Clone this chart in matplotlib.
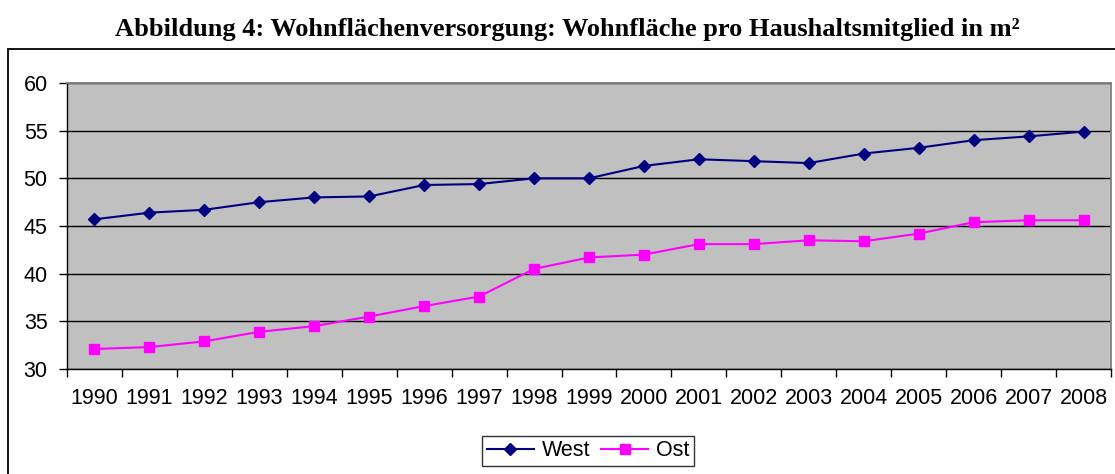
import matplotlib
matplotlib.use("Agg")
import matplotlib.pyplot as plt
from matplotlib.patches import Rectangle

years = [str(y) for y in range(1990, 2009)]
west = [45.7, 46.4, 46.7, 47.5, 48.0, 48.1, 49.3, 49.4, 50.0, 50.0,
        51.3, 52.0, 51.8, 51.6, 52.6, 53.2, 54.0, 54.4, 54.9]
ost = [32.1, 32.3, 32.9, 33.9, 34.5, 35.5, 36.6, 37.6, 40.5, 41.7,
       42.0, 43.1, 43.1, 43.5, 43.4, 44.2, 45.4, 45.6, 45.6]
yticks = [30, 35, 40, 45, 50, 55, 60]
title = "Abbildung 4: Wohnflächenversorgung: Wohnfläche pro Haushaltsmitglied in m²"

W, H = 1115, 474
fig = plt.figure(figsize=(W / 100, H / 100), dpi=100)
plt.rcParams['font.family'] = ['Liberation Sans', 'DejaVu Sans']

# outer chart border (cropped at right and bottom)
fig.patches.append(Rectangle((8 / W, -0.1), 1.2, (H - 49) / H + 0.1,
                             transform=fig.transFigure, fill=False,
                             edgecolor='black', linewidth=1.3))

fig.text(567 / W, 1 - 36 / H, title, ha='center', va='baseline',
         fontfamily=['Liberation Serif', 'DejaVu Serif'], fontweight='bold',
         fontsize=19)

ax = fig.add_axes([67 / W, 1 - 369 / H, (1111 - 67) / W, (369 - 83) / H])
ax.set_facecolor('#C0C0C0')
x = list(range(len(years)))
ax.plot(x, west, color='#000080', marker='D', markersize=6.5, linewidth=1.5,
        label='West')
ax.plot(x, ost, color='#FF00FF', marker='s', markersize=7, linewidth=1.5,
        label='Ost')

ax.set_xlim(-0.5, len(years) - 0.5)
ax.set_ylim(30, 60)
ax.set_yticks(yticks)
ax.set_yticklabels([str(v) for v in yticks])
ax.set_xticks(x)
ax.set_xticklabels(years)
ax.set_xticks([i - 0.5 for i in range(len(years) + 1)], minor=True)
ax.tick_params(axis='x', which='major', length=0, pad=14, labelsize=15.5)
ax.tick_params(axis='x', which='minor', length=6, width=1, direction='out')
ax.tick_params(axis='y', length=6, width=1, pad=8, labelsize=15.5)
ax.grid(axis='y', color='black', linewidth=1)
ax.set_axisbelow(True)
for s in ['top', 'right']:
    ax.spines[s].set_color('#808080')
    ax.spines[s].set_linewidth(1.3)
for s in ['left', 'bottom']:
    ax.spines[s].set_color('black')
    ax.spines[s].set_linewidth(1)

leg = fig.legend(loc='center', bbox_to_anchor=(588 / W, 1 - 451 / H), ncol=2,
                 frameon=True, fancybox=False, edgecolor='black', fontsize=15.5,
                 handlelength=2.2, columnspacing=0.5, handletextpad=0.35,
                 borderpad=0.2, borderaxespad=0)
leg.get_frame().set_linewidth(1)

fig.savefig('out.png', dpi=100)
